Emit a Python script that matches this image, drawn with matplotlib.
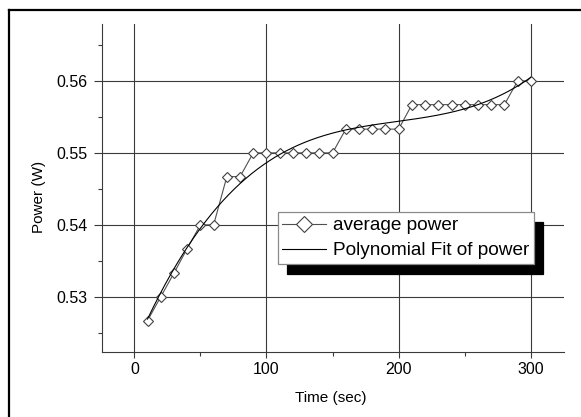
import numpy as np
import matplotlib
matplotlib.use('Agg')
from matplotlib import pyplot as plt
from matplotlib.lines import Line2D
from matplotlib.ticker import MultipleLocator

plt.rcParams['font.family'] = ['Liberation Sans', 'DejaVu Sans']

# average power readings, one every 10 s
time_sec = [10, 20, 30, 40, 50, 60, 70, 80, 90, 100,
            110, 120, 130, 140, 150, 160, 170, 180, 190, 200,
            210, 220, 230, 240, 250, 260, 270, 280, 290, 300]
avg_power = [0.5267, 0.5300, 0.5333, 0.5367, 0.5400, 0.5400, 0.5467, 0.5467, 0.5500, 0.5500,
             0.5500, 0.5500, 0.5500, 0.5500, 0.5500, 0.5533, 0.5533, 0.5533, 0.5533, 0.5533,
             0.5567, 0.5567, 0.5567, 0.5567, 0.5567, 0.5567, 0.5567, 0.5567, 0.5600, 0.5600]
fit_degree = 3

x_ticks = [0, 100, 200, 300]
y_ticks = [0.53, 0.54, 0.55, 0.56]

# polynomial fit of the readings
coef = np.polyfit(time_sec, avg_power, fit_degree)
t_fit = np.linspace(time_sec[0], time_sec[-1], 200)
p_fit = np.polyval(coef, t_fit)

fig = plt.figure(dpi=100, figsize=(5.81, 4.17))
ax = fig.add_axes([0.175, 0.155, 0.796, 0.787])

grid_c = '#3a3a3a'
ax.plot(time_sec, avg_power, color='#505050', lw=0.8, marker='D', ms=4.7,
        mfc='white', mec='#404040', mew=0.8, label='average power', zorder=3)
ax.plot(t_fit, p_fit, color='black', lw=0.8, label='Polynomial Fit of power', zorder=3)

ax.set_xlim(-24.7, 325.2)
ax.set_ylim(0.52228, 0.56788)
ax.set_xticks(x_ticks)
ax.set_yticks(y_ticks)
ax.set_yticklabels(['%.2f' % v for v in y_ticks])
ax.xaxis.set_minor_locator(MultipleLocator(50))
ax.yaxis.set_minor_locator(MultipleLocator(0.005))
ax.grid(True, which='major', color=grid_c, lw=0.8)
ax.set_axisbelow(True)

for s in ['top', 'right']:
    ax.spines[s].set_visible(False)
for s in ['left', 'bottom']:
    ax.spines[s].set_color(grid_c)
    ax.spines[s].set_linewidth(0.8)

ax.tick_params(axis='both', which='major', labelsize=11.5, color=grid_c, width=0.8)
ax.tick_params(axis='y', which='major', length=6, pad=4)
ax.tick_params(axis='x', which='major', length=4, pad=3)
ax.tick_params(axis='both', which='minor', length=3, color=grid_c, width=0.8)

ax.set_xlabel('Time (sec)', fontsize=11)
ax.set_ylabel('Power (W)', fontsize=11)
ax.xaxis.set_label_coords(0.496, -0.139)
ax.xaxis.label.set_verticalalignment('center')
ax.yaxis.set_label_coords(-0.1356, 0.473)
ax.yaxis.label.set_verticalalignment('center')

leg = ax.legend(loc='upper left', bbox_to_anchor=(0.478, 0.491), bbox_transform=fig.transFigure,
                borderaxespad=0, fontsize=13.7, markerscale=1.8, fancybox=False,
                edgecolor='#8a8a8a', framealpha=1, handlelength=2.3, handletextpad=0.35,
                borderpad=0.25, labelspacing=0.4,
                shadow={'ox': 6.5, 'oy': -7, 'color': 'black', 'alpha': 1})
leg.get_frame().set_linewidth(0.9)

# black frame on top and left edges of the picture
fig.add_artist(Line2D([9 / 581, 1], [1 - 10 / 417, 1 - 10 / 417], transform=fig.transFigure,
                      color='black', lw=1.6))
fig.add_artist(Line2D([9 / 581, 9 / 581], [0, 1 - 10 / 417], transform=fig.transFigure,
                      color='black', lw=1.6))

plt.savefig('out.png', dpi=100)
